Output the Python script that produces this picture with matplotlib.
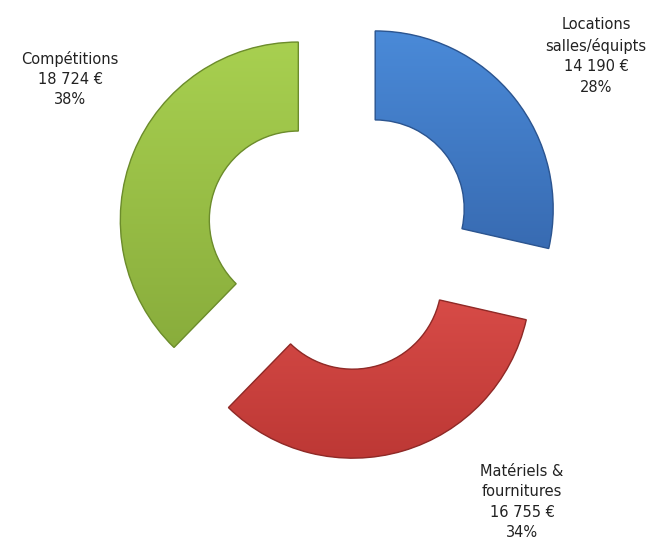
import numpy as np
import matplotlib.pyplot as plt
from matplotlib.colors import LinearSegmentedColormap
from matplotlib.patches import Wedge

# Budget breakdown
categories = ["Locations\nsalles/équipts", "Matériels &\nfournitures", "Compétitions"]
amounts = [14190, 16755, 18724]
amount_labels = ["14 190 €", "16 755 €", "18 724 €"]
percent_labels = ["28%", "34%", "38%"]

# Styling
top_colors = ["#4a8ad8", "#d74b47", "#a8d050"]
bottom_colors = ["#386bb2", "#bd3835", "#89ad3c"]
edge_colors = ["#2c5590", "#8f2a27", "#6c8c2c"]
label_pos = [(596, 485), (522, 39), (70, 462)]

W, H = 655, 541
fig = plt.figure(figsize=(W / 100, H / 100), dpi=100)
ax = fig.add_axes([0, 0, 1, 1])

radius = 178
ring = 89
explode = [45] * len(amounts)

wedges, _ = ax.pie(
    amounts,
    radius=radius,
    center=(340, 304),
    startangle=90,
    counterclock=False,
    explode=explode,
    wedgeprops=dict(width=ring, linewidth=0),
    frame=True,
)
ax.set_xlim(0, W)
ax.set_ylim(0, H)
ax.set_aspect("equal")
ax.axis("off")

# Vertical gradient fill clipped to each ring segment, then a thin outline
for w, ctop, cbot, cedge in zip(wedges, top_colors, bottom_colors, edge_colors):
    w.set_facecolor(cbot)
    bb = w.get_path().get_extents(w.get_patch_transform())
    cmap = LinearSegmentedColormap.from_list("g", [cbot, ctop])
    grad = np.linspace(0, 1, 256).reshape(-1, 1)
    im = ax.imshow(grad, cmap=cmap, origin="lower", aspect="auto",
                   extent=(bb.x0, bb.x1, bb.y0, bb.y1), zorder=w.get_zorder() + 0.1)
    im.set_clip_path(w)
    outline = Wedge(w.center, w.r, w.theta1, w.theta2, width=w.width,
                    fill=False, edgecolor=cedge, linewidth=1.0,
                    zorder=w.get_zorder() + 0.2)
    ax.add_patch(outline)

ax.set_xlim(0, W)
ax.set_ylim(0, H)

for cat, amt, pct, (x, y) in zip(categories, amount_labels, percent_labels, label_pos):
    ax.text(x, y, f"{cat}\n{amt}\n{pct}", ha="center", va="center",
            fontsize=10.5, color="#222222", linespacing=1.45,
            family=["DejaVu Sans"])

fig.savefig("out.png", dpi=100)
